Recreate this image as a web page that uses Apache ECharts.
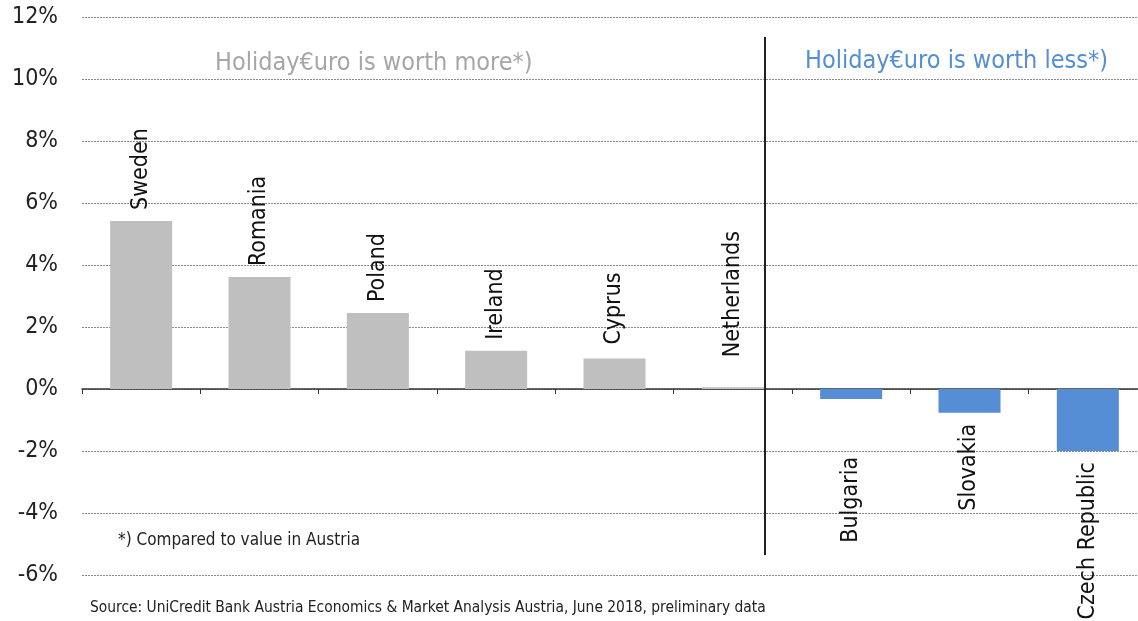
<!DOCTYPE html>
<html>
<head>
<meta charset="utf-8">
<script src="https://cdn.jsdelivr.net/npm/echarts@6/dist/echarts.min.js"></script>
<style>html,body{margin:0;padding:0;background:#fff;overflow:hidden;}#c{width:1150px;height:621px;}</style>
</head>
<body>
<div id="c"></div>
<script>
const categories = ['Sweden','Romania','Poland','Ireland','Cyprus','Netherlands','Bulgaria','Slovakia','Czech Republic'];
const values = [5.42, 3.61, 2.45, 1.23, 0.98, 0.06, -0.32, -0.77, -2.0];
const yTicks = [-6, -4, -2, 0, 2, 4, 6, 8, 10, 12];
const labelGap = [11, 11, 11, 11, 14, 30, 58, 11, 11];
const gray = '#bfbfbf', blue = '#558ed5';
const fontNarrow = '"Liberation Sans Narrow","DejaVu Sans Condensed","Roboto Condensed",sans-serif';

const chart = echarts.init(document.getElementById('c'));
const data = values.map((v, i) => ({
  value: v,
  itemStyle: { color: i < 6 ? gray : blue },
  label: v >= 0
    ? { position: 'top', align: 'left', verticalAlign: 'middle', rotate: 90, distance: labelGap[i] }
    : { position: 'bottom', align: 'right', verticalAlign: 'middle', rotate: 90, distance: labelGap[i] }
}));

chart.setOption({
  animation: false,
  grid: { left: 82, top: 17, width: 1065, height: 558, containLabel: false },
  xAxis: {
    type: 'category',
    data: categories,
    axisLine: { onZero: true, lineStyle: { color: '#333', width: 1.5 } },
    axisTick: { show: true, alignWithLabel: false, length: 5, lineStyle: { color: '#333' } },
    axisLabel: { show: false },
    splitLine: { show: false }
  },
  yAxis: {
    type: 'value',
    min: yTicks[0], max: yTicks[yTicks.length - 1], interval: 2,
    axisLine: { show: false },
    axisTick: { show: false },
    axisLabel: { formatter: '{value}%', color: '#222', fontSize: 23, fontFamily: 'DejaVu Sans Condensed, sans-serif', margin: 24 },
    splitLine: { show: true, lineStyle: { color: '#8a8a8a', type: [2, 1], width: 1 } }
  },
  series: [{
    type: 'bar',
    data: data,
    barWidth: 62,
    label: { show: true, formatter: p => categories[p.dataIndex], color: '#111', fontSize: 23, fontFamily: 'DejaVu Sans Condensed, sans-serif' }
  }],
  graphic: [
    { type: 'line', shape: { x1: 765, y1: 37, x2: 765, y2: 555 }, style: { stroke: '#222', lineWidth: 2 }, z: 10 },
    { type: 'text', left: 215, top: 51, style: { text: 'Holiday€uro is worth more*)', fill: '#a6a6a6', fontSize: 25, fontFamily: fontNarrow } },
    { type: 'text', left: 805, top: 49, style: { text: 'Holiday€uro is worth less*)', fill: blue, fontSize: 25, fontFamily: fontNarrow } },
    { type: 'text', left: 118, top: 532, style: { text: '*) Compared to value in Austria', fill: '#222', fontSize: 17, fontFamily: fontNarrow } },
    { type: 'text', left: 90, top: 600, style: { text: 'Source: UniCredit Bank Austria Economics & Market Analysis Austria, June 2018, preliminary data', fill: '#222', fontSize: 15.4, fontFamily: fontNarrow } }
  ]
});
</script>
</body>
</html>
